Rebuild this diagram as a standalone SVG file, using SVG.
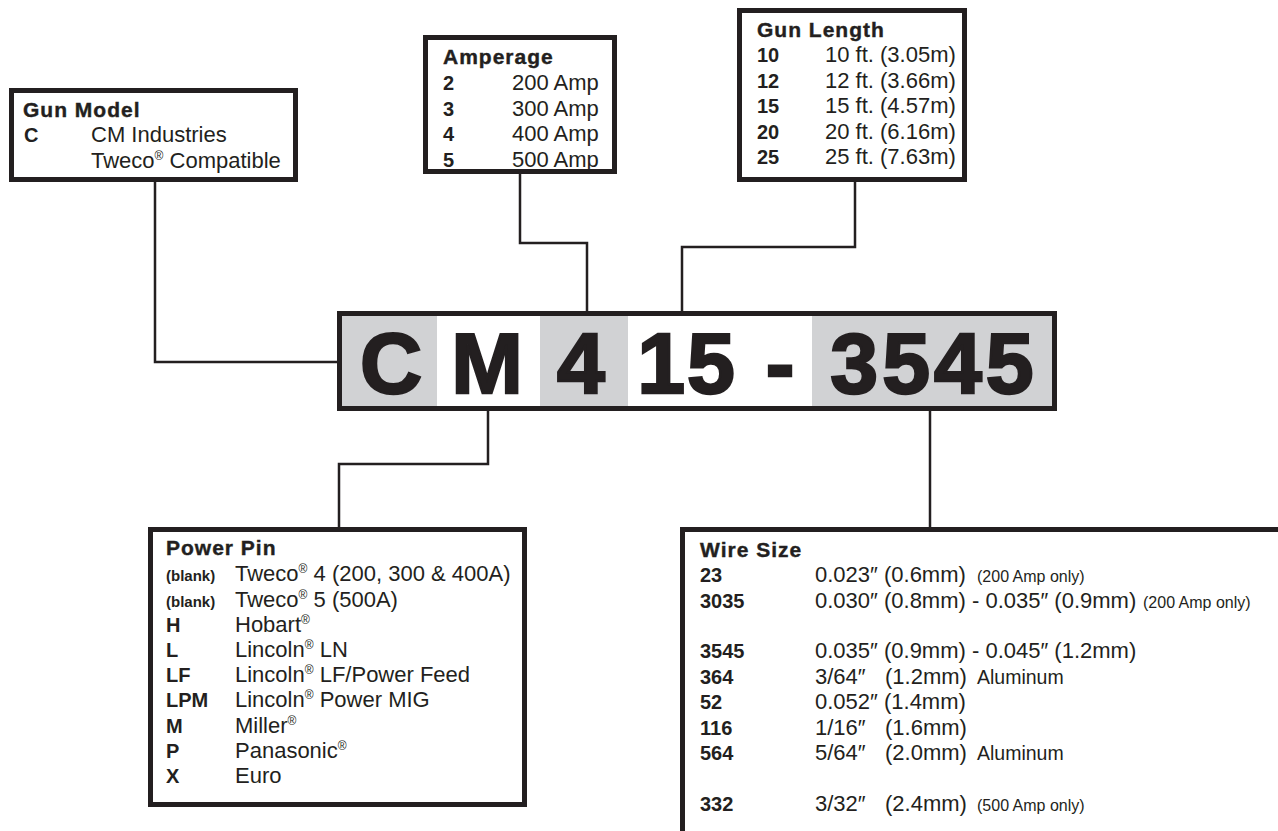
<svg xmlns="http://www.w3.org/2000/svg" width="1278" height="831" viewBox="0 0 1278 831">
<style>
.box{fill:#fff;stroke:#231f20;stroke-width:5}
.conn{fill:none;stroke:#231f20;stroke-width:2.5}
text{font-family:"Liberation Sans",Arial,sans-serif;fill:#231f20}
.t{font-size:21px;font-weight:bold;letter-spacing:1px;stroke:#231f20;stroke-width:0.4}
.c{font-size:20px;font-weight:bold}
.s{font-size:15px;font-weight:bold}
.v{font-size:22px}
.n{font-size:16px}
.a{font-size:19.5px}
.r{font-size:12px}
.big{font-size:86px;font-weight:bold;stroke:#231f20;stroke-width:2.5;text-anchor:middle}
.g{fill:#d1d2d4}
</style>
<defs/>
<rect width="1278" height="831" fill="#fff"/>
<g id="connectors">
<polyline class="conn" points="155,181 155,362 338,362"/>
<polyline class="conn" points="520,172 520,243 587,243 587,312"/>
<polyline class="conn" points="855,180 855,247 682,247 682,312"/>
<polyline class="conn" points="488,410 488,464 339,464 339,528"/>
<polyline class="conn" points="930,410 930,528"/>
</g>
<g id="gun-model">
<rect class="box" x="11.5" y="90.5" width="284" height="89"/>
<text class="t" x="23" y="117">Gun Model</text>
<text class="c" x="24" y="142">C</text>
<text class="v" x="91" y="142">CM Industries</text>
<text class="v" x="91" y="168">Tweco<tspan class="r" dy="-8">®</tspan><tspan dy="8"> Compatible</tspan></text>
</g>
<g id="amperage">
<rect class="box" x="425.5" y="37.5" width="189" height="134"/>
<text class="t" x="443" y="64">Amperage</text>
<text class="c" x="443" y="90">2</text><text class="v" x="512" y="90">200 Amp</text>
<text class="c" x="443" y="115.5">3</text><text class="v" x="512" y="115.5">300 Amp</text>
<text class="c" x="443" y="141">4</text><text class="v" x="512" y="141">400 Amp</text>
<text class="c" x="443" y="166.5">5</text><text class="v" x="512" y="166.5">500 Amp</text>
</g>
<g id="gun-length">
<rect class="box" x="739.5" y="10.5" width="225" height="169"/>
<text class="t" x="757" y="37">Gun Length</text>
<text class="c" x="757" y="62">10</text><text class="v" x="825" y="62">10 ft. (3.05m)</text>
<text class="c" x="757" y="88">12</text><text class="v" x="825" y="88">12 ft. (3.66m)</text>
<text class="c" x="757" y="113">15</text><text class="v" x="825" y="113">15 ft. (4.57m)</text>
<text class="c" x="757" y="139">20</text><text class="v" x="825" y="139">20 ft. (6.16m)</text>
<text class="c" x="757" y="164">25</text><text class="v" x="825" y="164">25 ft. (7.63m)</text>
</g>
<g id="part-number">
<rect class="g" x="340" y="314" width="97" height="94"/>
<rect fill="#fff" x="437" y="314" width="103" height="94"/>
<rect class="g" x="540" y="314" width="88" height="94"/>
<rect fill="#fff" x="628" y="314" width="184" height="94"/>
<rect class="g" x="812" y="314" width="242" height="94"/>
<rect x="339.5" y="313.5" width="715" height="95" fill="none" stroke="#231f20" stroke-width="5"/>
<text class="big" x="391" y="393">C</text>
<text class="big" x="487" y="393">M</text>
<text class="big" x="581" y="393">4</text>
<text class="big" x="686" y="393" letter-spacing="2" dx="1">15</text>
<text class="big" x="780" y="393">-</text>
<text class="big" x="932" y="393" letter-spacing="4" dx="2">3545</text>
</g>
<g id="power-pin">
<rect class="box" x="150.5" y="529.5" width="374" height="275"/>
<text class="t" x="166" y="555">Power Pin</text>
<text class="s" x="166" y="581">(blank)</text><text class="v" x="235" y="581">Tweco<tspan class="r" dy="-8">®</tspan><tspan dy="8"> 4 (200, 300 &amp; 400A)</tspan></text>
<text class="s" x="166" y="607">(blank)</text><text class="v" x="235" y="607">Tweco<tspan class="r" dy="-8">®</tspan><tspan dy="8"> 5 (500A)</tspan></text>
<text class="c" x="166" y="632">H</text><text class="v" x="235" y="632">Hobart<tspan class="r" dy="-8">®</tspan></text>
<text class="c" x="166" y="657">L</text><text class="v" x="235" y="657">Lincoln<tspan class="r" dy="-8">®</tspan><tspan dy="8"> LN</tspan></text>
<text class="c" x="166" y="682">LF</text><text class="v" x="235" y="682">Lincoln<tspan class="r" dy="-8">®</tspan><tspan dy="8"> LF/Power Feed</tspan></text>
<text class="c" x="166" y="707">LPM</text><text class="v" x="235" y="707">Lincoln<tspan class="r" dy="-8">®</tspan><tspan dy="8"> Power MIG</tspan></text>
<text class="c" x="166" y="733">M</text><text class="v" x="235" y="733">Miller<tspan class="r" dy="-8">®</tspan></text>
<text class="c" x="166" y="758">P</text><text class="v" x="235" y="758">Panasonic<tspan class="r" dy="-8">®</tspan></text>
<text class="c" x="166" y="783">X</text><text class="v" x="235" y="783">Euro</text>
</g>
<g id="wire-size">
<rect class="box" x="682.5" y="529.5" width="700" height="400"/>
<text class="t" x="700" y="557">Wire Size</text>
<text class="c" x="700" y="582">23</text><text class="v" x="815" y="582">0.023″ (0.6mm)</text><text class="n" x="977" y="582">(200 Amp only)</text>
<text class="c" x="700" y="607.5">3035</text><text class="v" x="815" y="607.5">0.030″ (0.8mm) - 0.035″ (0.9mm)</text><text class="n" x="1143" y="607.5">(200 Amp only)</text>
<text class="c" x="700" y="658">3545</text><text class="v" x="815" y="658">0.035″ (0.9mm) - 0.045″ (1.2mm)</text>
<text class="c" x="700" y="683.5">364</text><text class="v" x="815" y="683.5">3/64″</text><text class="v" x="885" y="683.5">(1.2mm)</text><text class="a" x="977" y="683.5">Aluminum</text>
<text class="c" x="700" y="709">52</text><text class="v" x="815" y="709">0.052″ (1.4mm)</text>
<text class="c" x="700" y="734.5">116</text><text class="v" x="815" y="734.5">1/16″</text><text class="v" x="885" y="734.5">(1.6mm)</text>
<text class="c" x="700" y="760">564</text><text class="v" x="815" y="760">5/64″</text><text class="v" x="885" y="760">(2.0mm)</text><text class="a" x="977" y="760">Aluminum</text>
<text class="c" x="700" y="811">332</text><text class="v" x="815" y="811">3/32″</text><text class="v" x="885" y="811">(2.4mm)</text><text class="n" x="977" y="811">(500 Amp only)</text>
</g>
</svg>
